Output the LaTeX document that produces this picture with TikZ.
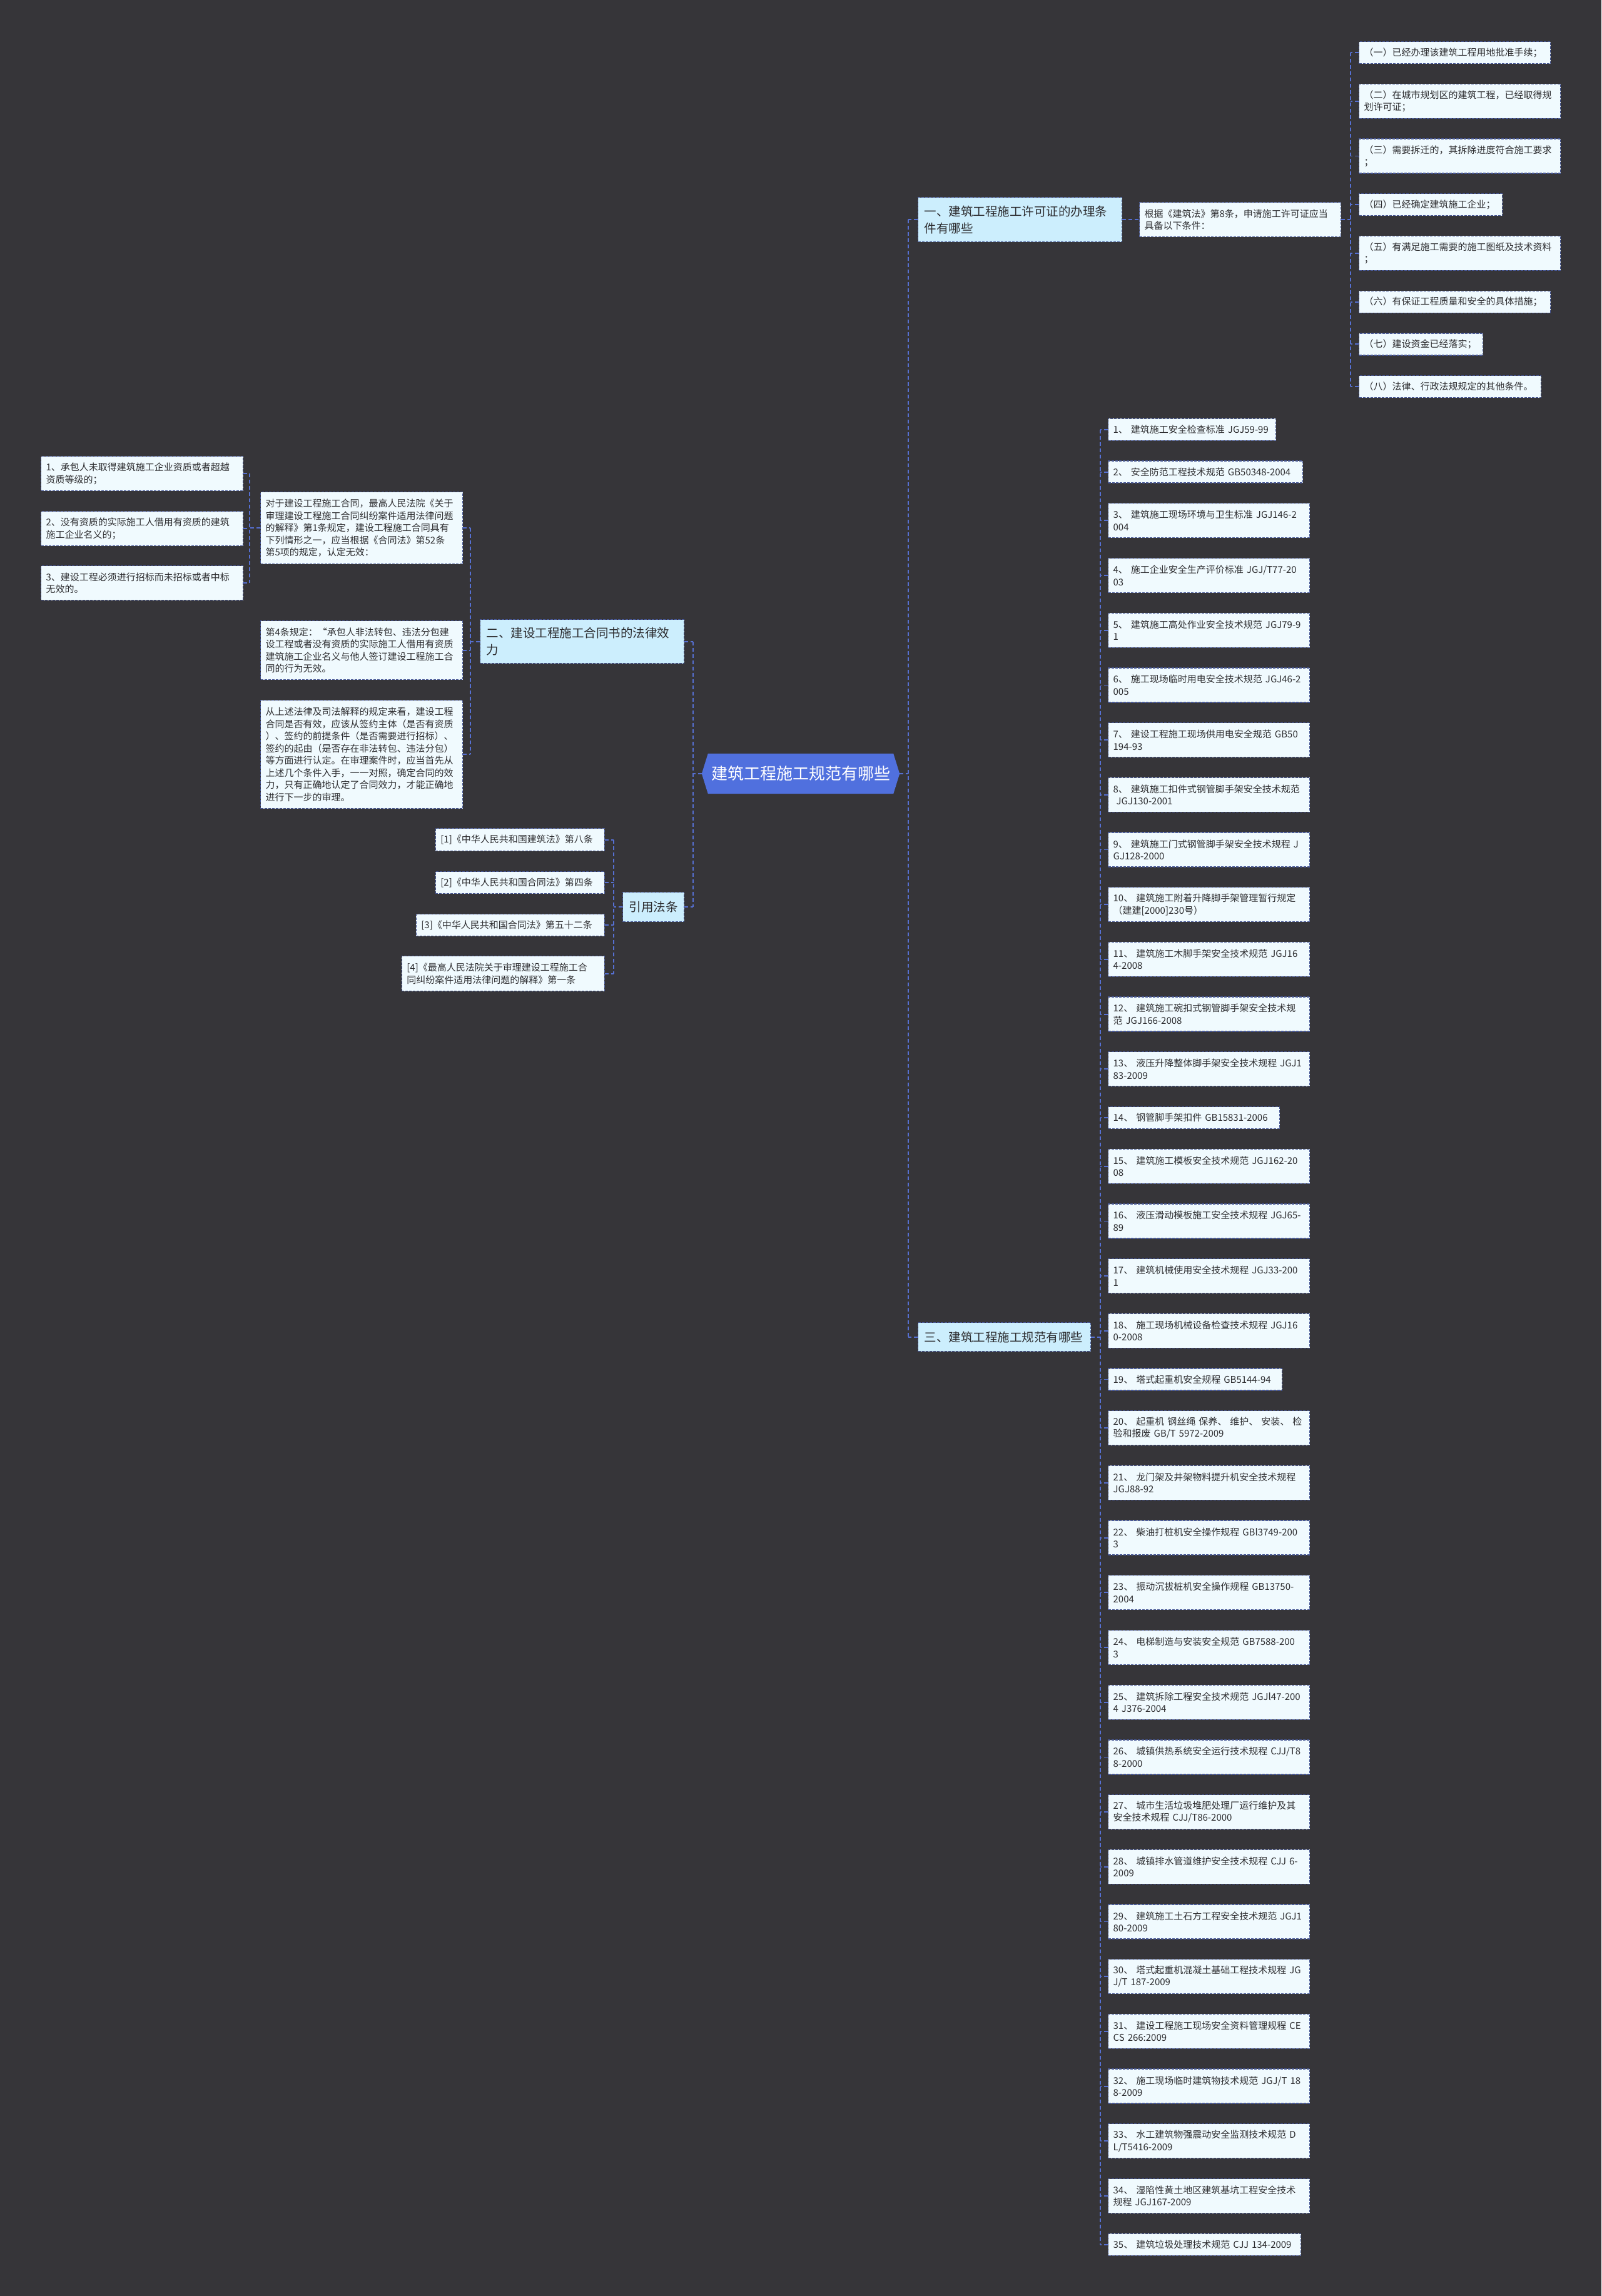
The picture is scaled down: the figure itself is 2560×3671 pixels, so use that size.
\documentclass[tikz,border=0pt]{standalone}
\usepackage{fontspec}
\setmainfont{Noto Sans CJK SC}
\usetikzlibrary{backgrounds,calc}
\definecolor{bgc}{RGB}{54,53,57}
\definecolor{linkc}{RGB}{86,112,210}
\definecolor{leafbd}{RGB}{72,88,150}
\definecolor{leaffill}{RGB}{240,250,254}
\definecolor{secfill}{RGB}{204,238,253}
\definecolor{rootc}{RGB}{80,112,222}
\definecolor{txt}{RGB}{45,45,48}
\newcommand{\leaffont}{\fontsize{15}{19.5}\selectfont}
\newcommand{\secfont}{\fontsize{19.5}{27}\selectfont}
\newcommand{\rootfont}{\fontsize{26}{30}\selectfont}
\begin{document}
\begin{tikzpicture}[x=1pt,y=-1pt,
  conn/.style={draw=linkc, line width=1.8pt, dash pattern=on 6pt off 4pt},
  conn0/.style={conn, line width=2.2pt},
  box/.style={anchor=north west, draw=leafbd, line width=1.3pt, dash pattern=on 4pt off 2pt, inner ysep=0pt, align=left, text=txt},
  leaf/.style={box, fill=leaffill, font=\leaffont, inner xsep=8pt},
  rleaf/.style={leaf, anchor=north east},
  sec/.style={box, fill=secfill, font=\secfont, inner xsep=10pt},
  rootnode/.style={minimum width=316pt, minimum height=64pt, inner sep=0pt, text=white, font=\rootfont},
  w1/.style={text width=306pt, minimum height=55pt},
  s1l/.style={minimum height=35pt}
]
\useasboundingbox (0,0) rectangle (2560,3671);

% root
\node[rootnode] (root) at (1280,1237) {建筑工程施工规范有哪些};

% sections
\node[sec, text width=306pt, minimum height=71pt] (sec1) at (1467,315) {一、建筑工程施工许可证的办理条\\件有哪些};
\node[sec, text width=306pt, minimum height=70pt] (sec2) at (767,990) {二、建设工程施工合同书的法律效\\力};
\node[sec, text width=256pt, minimum height=46pt] (sec3) at (1467,2114) {三、建筑工程施工规范有哪些};
\node[sec, text width=78pt, minimum height=47pt] (ref) at (995,1426) {引用法条};

% section 1 children
\node[leaf, w1] (gen) at (1821,323) {根据《建筑法》第8条，申请施工许可证应当\\具备以下条件：};
\node[leaf, s1l, text width=290pt] (g1) at (2172,66) {（一）已经办理该建筑工程用地批准手续；};
\node[leaf, w1] (g2) at (2172,133.7) {（二）在城市规划区的建筑工程，已经取得规\\划许可证；};
\node[leaf, w1] (g3) at (2172,221.4) {（三）需要拆迁的，其拆除进度符合施工要求\\；};
\node[leaf, s1l, text width=213pt] (g4) at (2172,309.1) {（四）已经确定建筑施工企业；};
\node[leaf, w1] (g5) at (2172,376.8) {（五）有满足施工需要的施工图纸及技术资料\\；};
\node[leaf, s1l, text width=290pt] (g6) at (2172,464.5) {（六）有保证工程质量和安全的具体措施；};
\node[leaf, s1l, text width=182pt] (g7) at (2172,532.2) {（七）建设资金已经落实；};
\node[leaf, s1l, text width=275pt] (g8) at (2172,599.9) {（八）法律、行政法规规定的其他条件。};

% section 2 children
\node[leaf, text width=307pt, minimum height=115pt] (bA) at (416,786) {对于建设工程施工合同，最高人民法院《关于\\审理建设工程施工合同纠纷案件适用法律问题\\的解释》第1条规定，建设工程施工合同具有\\下列情形之一，应当根据《合同法》第52条\\第5项的规定，认定无效：};
\node[leaf, text width=307pt, minimum height=94pt] (bB) at (416,992) {第4条规定：“承包人非法转包、违法分包建\\设工程或者没有资质的实际施工人借用有资质\\建筑施工企业名义与他人签订建设工程施工合\\同的行为无效。};
\node[leaf, text width=307pt, minimum height=173pt] (bC) at (416,1119) {从上述法律及司法解释的规定来看，建设工程\\合同是否有效，应该从签约主体（是否有资质\\）、签约的前提条件（是否需要进行招标）、\\签约的起由（是否存在非法转包、违法分包）\\等方面进行认定。在审理案件时，应当首先从\\上述几个条件入手，一一对照，确定合同的效\\力，只有正确地认定了合同效力，才能正确地\\进行下一步的审理。};
\node[leaf, text width=307pt, minimum height=55pt] (a1) at (65,729) {1、承包人未取得建筑施工企业资质或者超越\\资质等级的；};
\node[leaf, text width=307pt, minimum height=55pt] (a2) at (65,817) {2、没有资质的实际施工人借用有资质的建筑\\施工企业名义的；};
\node[leaf, text width=307pt, minimum height=55pt] (a3) at (65,904) {3、建设工程必须进行招标而未招标或者中标\\无效的。};

% references
\node[rleaf, text width=254pt, minimum height=36pt] (r1) at (967,1324) {[1]《中华人民共和国建筑法》第八条};
\node[rleaf, text width=254pt, minimum height=35pt] (r2) at (967,1393) {[2]《中华人民共和国合同法》第四条};
\node[rleaf, text width=285pt, minimum height=35pt] (r3) at (967,1461) {[3]《中华人民共和国合同法》第五十二条};
\node[rleaf, text width=308pt, minimum height=56pt] (r4) at (967,1528) {[4]《最高人民法院关于审理建设工程施工合\\同纠纷案件适用法律问题的解释》第一条};

% section 3 children
\node[leaf, s1l, text width=252pt] (s1) at (1771,668.75) {1、~建筑施工安全检查标准~JGJ59-99};
\node[leaf, s1l, text width=295pt] (s2) at (1771,736.45) {2、~安全防范工程技术规范~GB50348-2004};
\node[leaf, w1] (s3) at (1771,804.15) {3、~建筑施工现场环境与卫生标准~JGJ146-2\\004};
\node[leaf, w1] (s4) at (1771,891.85) {4、~施工企业安全生产评价标准~JGJ/T77-20\\03};
\node[leaf, w1] (s5) at (1771,979.55) {5、~建筑施工高处作业安全技术规范~JGJ79-9\\1};
\node[leaf, w1] (s6) at (1771,1067.25) {6、~施工现场临时用电安全技术规范~JGJ46-2\\005};
\node[leaf, w1] (s7) at (1771,1154.95) {7、~建设工程施工现场供用电安全规范~GB50\\194-93};
\node[leaf, w1] (s8) at (1771,1242.65) {8、~建筑施工扣件式钢管脚手架安全技术规范\\~JGJ130-2001};
\node[leaf, w1] (s9) at (1771,1330.35) {9、~建筑施工门式钢管脚手架安全技术规程~J\\GJ128-2000};
\node[leaf, w1] (s10) at (1771,1418.05) {10、~建筑施工附着升降脚手架管理暂行规定\\（建建[2000]230号）};
\node[leaf, w1] (s11) at (1771,1505.75) {11、~建筑施工木脚手架安全技术规范~JGJ16\\4-2008};
\node[leaf, w1] (s12) at (1771,1593.45) {12、~建筑施工碗扣式钢管脚手架安全技术规\\范~JGJ166-2008};
\node[leaf, w1] (s13) at (1771,1681.15) {13、~液压升降整体脚手架安全技术规程~JGJ1\\83-2009};
\node[leaf, s1l, text width=258pt] (s14) at (1771,1768.85) {14、~钢管脚手架扣件~GB15831-2006};
\node[leaf, w1] (s15) at (1771,1836.55) {15、~建筑施工模板安全技术规范~JGJ162-20\\08};
\node[leaf, w1] (s16) at (1771,1924.25) {16、~液压滑动模板施工安全技术规程~JGJ65-\\89};
\node[leaf, w1] (s17) at (1771,2011.95) {17、~建筑机械使用安全技术规程~JGJ33-200\\1};
\node[leaf, w1] (s18) at (1771,2099.65) {18、~施工现场机械设备检查技术规程~JGJ16\\0-2008};
\node[leaf, s1l, text width=262pt] (s19) at (1771,2187.35) {19、~塔式起重机安全规程~GB5144-94};
\node[leaf, w1] (s20) at (1771,2255.05) {20、~起重机~钢丝绳~保养、~维护、~安装、~检\\验和报废~GB/T~5972-2009};
\node[leaf, w1] (s21) at (1771,2342.75) {21、~龙门架及井架物料提升机安全技术规程\\JGJ88-92};
\node[leaf, w1] (s22) at (1771,2430.45) {22、~柴油打桩机安全操作规程~GBl3749-200\\3};
\node[leaf, w1] (s23) at (1771,2518.15) {23、~振动沉拔桩机安全操作规程~GB13750-\\2004};
\node[leaf, w1] (s24) at (1771,2605.85) {24、~电梯制造与安装安全规范~GB7588-200\\3};
\node[leaf, w1] (s25) at (1771,2693.55) {25、~建筑拆除工程安全技术规范~JGJl47-200\\4~J376-2004};
\node[leaf, w1] (s26) at (1771,2781.25) {26、~城镇供热系统安全运行技术规程~CJJ/T8\\8-2000};
\node[leaf, w1] (s27) at (1771,2868.95) {27、~城市生活垃圾堆肥处理厂运行维护及其\\安全技术规程~CJJ/T86-2000};
\node[leaf, w1] (s28) at (1771,2956.65) {28、~城镇排水管道维护安全技术规程~CJJ~6-\\2009};
\node[leaf, w1] (s29) at (1771,3044.35) {29、~建筑施工土石方工程安全技术规范~JGJ1\\80-2009};
\node[leaf, w1] (s30) at (1771,3132.05) {30、~塔式起重机混凝土基础工程技术规程~JG\\J/T~187-2009};
\node[leaf, w1] (s31) at (1771,3219.75) {31、~建设工程施工现场安全资料管理规程~CE\\CS~266:2009};
\node[leaf, w1] (s32) at (1771,3307.45) {32、~施工现场临时建筑物技术规范~JGJ/T~18\\8-2009};
\node[leaf, w1] (s33) at (1771,3395.15) {33、~水工建筑物强震动安全监测技术规范~D\\L/T5416-2009};
\node[leaf, w1] (s34) at (1771,3482.85) {34、~湿陷性黄土地区建筑基坑工程安全技术\\规程~JGJ167-2009};
\node[leaf, s1l, text width=292pt] (s35) at (1771,3570.55) {35、~建筑垃圾处理技术规范~CJJ~134-2009};

% background and root hexagon
\begin{scope}[on background layer]
\fill[bgc] (0,0) rectangle (2560,3671);
\fill[rootc] (root.west) -- ([xshift=10pt]root.north west) -- ([xshift=-10pt]root.north east) -- (root.east) -- ([xshift=-10pt]root.south east) -- ([xshift=10pt]root.south west) -- cycle;
\end{scope}

% root connectors
\coordinate (tR) at ($(root.east)+(14,0)$);
\draw[conn0] (root.east) -- (tR);
\draw[conn0] (tR |- sec1.west) -- (tR |- sec3.west);
\draw[conn0] (sec1.west) -- (tR |- sec1.west);
\draw[conn0] (sec3.west) -- (tR |- sec3.west);
\coordinate (tL) at ($(root.west)+(-14,0)$);
\draw[conn0] (root.west) -- (tL);
\draw[conn0] (tL |- sec2.east) -- (tL |- ref.east);
\draw[conn0] (sec2.east) -- (tL |- sec2.east);
\draw[conn0] (ref.east) -- (tL |- ref.east);

% section 1
\draw[conn] (sec1.east) -- (gen.west);
\coordinate (tG) at ($(gen.east)+(15,0)$);
\draw[conn] (gen.east) -- (tG);
\draw[conn] (tG |- g1.west) -- (tG |- g8.west);
\foreach \i in {1,...,8} \draw[conn] (g\i.west) -- (tG |- g\i.west);

% section 3
\coordinate (tS) at ($(sec3.east)+(15,0)$);
\draw[conn] (sec3.east) -- (tS);
\draw[conn] (tS |- s1.west) -- (tS |- s35.west);
\foreach \i in {1,...,35} \draw[conn] (s\i.west) -- (tS |- s\i.west);

% section 2
\coordinate (t2) at ($(sec2.west)+(-15,0)$);
\draw[conn] (sec2.west) -- (t2);
\draw[conn] (t2 |- bA.east) -- (t2 |- bC.east);
\foreach \n in {bA,bB,bC} \draw[conn] (\n.east) -- (t2 |- \n.east);
\coordinate (tA) at ($(bA.west)+(-17,0)$);
\draw[conn] (bA.west) -- (tA);
\draw[conn] (tA |- a1.east) -- (tA |- a3.east);
\foreach \n in {a1,a2,a3} \draw[conn] (\n.east) -- (tA |- \n.east);

% references
\coordinate (tF) at ($(ref.west)+(-14,0)$);
\draw[conn] (ref.west) -- (tF);
\draw[conn] (tF |- r1.east) -- (tF |- r4.east);
\foreach \n in {r1,r2,r3,r4} \draw[conn] (\n.east) -- (tF |- \n.east);
\end{tikzpicture}
\end{document}
